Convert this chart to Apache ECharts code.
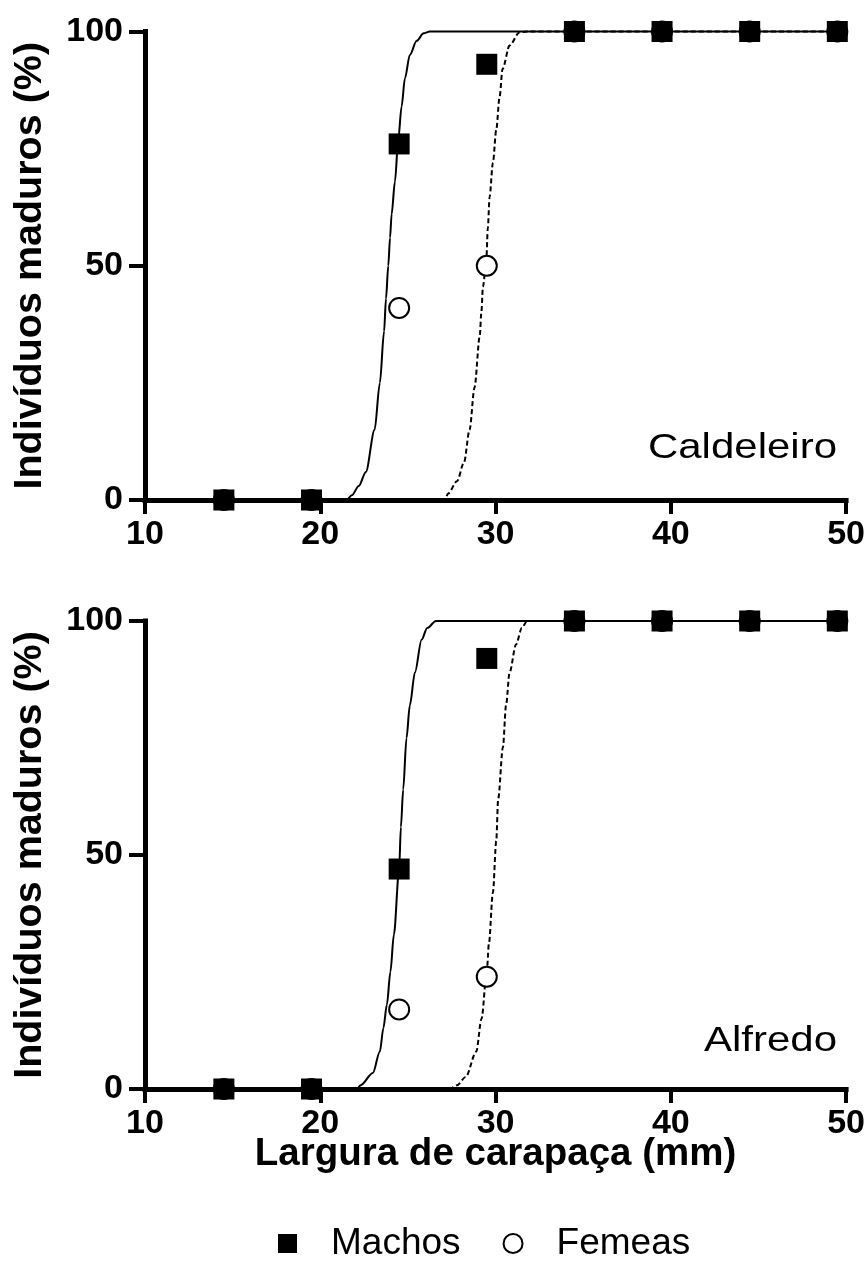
<!DOCTYPE html>
<html><head><meta charset="utf-8">
<script src="https://cdn.jsdelivr.net/npm/echarts@6/dist/echarts.min.js"></script>
<style>html,body{margin:0;padding:0;background:#fff}#c{width:868px;height:1267px}</style>
</head><body><div id="c"></div>
<script>
// ---- data ----
const xTicks = [10, 20, 30, 40, 50];
const yTicks = [0, 50, 100];
const panelNames = ['Caldeleiro', 'Alfredo'];
const xTitle = 'Largura de carapaça (mm)';
const yTitle = 'Indivíduos maduros (%)';
const legendNames = ['Machos', 'Femeas'];

// observed proportions (class mid-points)
const machosCaldeleiro = [[14.5,0],[19.5,0],[24.5,76],[29.5,93],[34.5,100],[39.5,100],[44.5,100],[49.5,100]];
const femeasCaldeleiro = [[14.5,0],[19.5,0],[24.5,41],[29.5,50],[34.5,100],[39.5,100],[44.5,100],[49.5,100]];
const machosAlfredo    = [[14.5,0],[19.5,0],[24.5,47],[29.5,92],[34.5,100],[39.5,100],[44.5,100],[49.5,100]];
const femeasAlfredo    = [[14.5,0],[19.5,0],[24.5,17],[29.5,24],[34.5,100],[39.5,100],[44.5,100],[49.5,100]];

// fitted curves
const curveMachosCaldeleiro = [[10,0],[21.5,0],[21.8,1],[22.2,3],[22.6,6],[23.1,15],[23.4,25],[23.64,36],[23.75,43],[23.88,50],[23.98,56],[24.07,61],[24.26,68],[24.45,77],[24.64,84],[24.83,90],[25.11,95],[25.5,98],[25.9,99.6],[26.25,100],[50,100]];
const curveFemeasCaldeleiro = [[10,0],[27.1,0],[27.3,1.4],[27.8,4],[28.2,8],[28.52,15],[28.8,24],[29.1,35],[29.19,40],[29.28,45.5],[29.47,51],[29.56,58],[29.66,64.7],[29.85,72],[30.04,79],[30.23,86],[30.4,92],[30.8,97],[31.36,99.8],[31.8,100],[50,100]];
const curveMachosAlfredo    = [[10,0],[22.1,0],[22.3,0.8],[23.0,3.4],[23.4,8],[23.6,13],[23.8,18],[24.0,25],[24.2,33],[24.5,47],[24.6,56],[24.73,64],[24.92,75],[25.11,82],[25.4,89],[25.78,96],[26.1,98.5],[26.6,100],[50,100]];
const curveFemeasAlfredo    = [[10,0],[27.4,0],[27.8,0.8],[28.3,2.6],[28.9,8],[29.2,15],[29.5,25],[29.62,31],[29.85,42],[30.04,53],[30.15,62],[30.42,73],[30.6,82],[30.8,89],[31.17,95],[31.5,98.5],[31.8,100],[50,100]];

const machosData = [machosCaldeleiro, machosAlfredo];
const femeasData = [femeasCaldeleiro, femeasAlfredo];
const curveMachos = [curveMachosCaldeleiro, curveMachosAlfredo];
const curveFemeas = [curveFemeasCaldeleiro, curveFemeasAlfredo];

// ---- chart ----
const FONT = '"Liberation Sans", Arial, Helvetica, sans-serif';
const chart = echarts.init(document.getElementById('c'), null, {renderer: 'canvas'});

const grids = [
  {left: 145, width: 703, top: 31.5, height: 468.5},
  {left: 145, width: 703, top: 621, height: 468}
];

const xAxes = grids.map((g, i) => ({
  type: 'value', gridIndex: i, min: xTicks[0], max: xTicks[xTicks.length-1], interval: 10,
  axisLine: {show: true, onZero: false, lineStyle: {color: '#000', width: 5, cap: 'square'}},
  axisTick: {show: true, length: 14, lineStyle: {color: '#000', width: 4}},
  axisLabel: {color: '#000', fontSize: 34, fontWeight: 'bold', fontFamily: FONT, margin: 18},
  splitLine: {show: false},
  name: i === 1 ? xTitle : '', nameLocation: 'middle', nameGap: 65, nameMoveOverlap: false,
  nameTextStyle: {color: '#000', fontSize: 38.5, fontWeight: 'bold', fontFamily: FONT, verticalAlign: 'middle'}
}));

const yAxes = grids.map((g, i) => ({
  type: 'value', gridIndex: i, min: yTicks[0], max: yTicks[yTicks.length-1], interval: 50,
  axisLine: {show: true, onZero: false, lineStyle: {color: '#000', width: 5, cap: 'square'}},
  axisTick: {show: true, length: 16, lineStyle: {color: '#000', width: 4}},
  axisLabel: {color: '#000', fontSize: 34, fontWeight: 'bold', fontFamily: FONT, margin: 22},
  splitLine: {show: false},
  name: yTitle, nameLocation: 'middle', nameGap: 95, nameRotate: 90, nameMoveOverlap: false,
  nameTextStyle: {color: '#000', fontSize: 39.5, fontWeight: 'bold', fontFamily: FONT}
}));

const series = [];
for (let i = 0; i < 2; i++) {
  series.push({
    name: 'Machos (ajuste)', type: 'line', xAxisIndex: i, yAxisIndex: i, data: curveMachos[i],
    showSymbol: false, smooth: 0.3, smoothMonotone: 'x', clip: false, z: 3,
    lineStyle: {color: '#000', width: 2}, silent: true
  });
  series.push({
    name: 'Femeas (ajuste)', type: 'line', xAxisIndex: i, yAxisIndex: i, data: curveFemeas[i],
    showSymbol: false, smooth: 0.3, smoothMonotone: 'x', clip: false, z: 3,
    lineStyle: {color: '#000', width: 2, type: [5, 3]}, silent: true
  });
  series.push({
    name: legendNames[1], type: 'scatter', xAxisIndex: i, yAxisIndex: i, data: femeasData[i],
    symbol: 'circle', symbolSize: 20, clip: false, z: 4,
    itemStyle: {color: '#fff', borderColor: '#000', borderWidth: 2, opacity: 1}
  });
  series.push({
    name: legendNames[0], type: 'scatter', xAxisIndex: i, yAxisIndex: i, data: machosData[i],
    symbol: 'rect', symbolSize: 21, clip: false, z: 5,
    itemStyle: {color: '#000', opacity: 1}
  });
}

chart.setOption({
  backgroundColor: '#fff',
  animation: false,
  grid: grids,
  xAxis: xAxes,
  yAxis: yAxes,
  legend: {
    left: 273, top: 1220, itemWidth: 19, itemHeight: 19, itemGap: 42,
    data: [{name: legendNames[0], icon: 'rect'}, {name: legendNames[1], icon: 'circle'}],
    textStyle: {color: '#000', fontSize: 37, fontFamily: FONT, padding: [0, 0, 0, 29]},
    selectedMode: false
  },
  graphic: [
    {type: 'text', x: 837, y: 448, scaleX: 1.2, style: {text: panelNames[0], fill: '#000', font: '35px ' + FONT, textAlign: 'right', textVerticalAlign: 'middle'}},
    {type: 'text', x: 837, y: 1041, scaleX: 1.2, style: {text: panelNames[1], fill: '#000', font: '35px ' + FONT, textAlign: 'right', textVerticalAlign: 'middle'}}
  ],
  series: series
});
</script>
</body></html>
